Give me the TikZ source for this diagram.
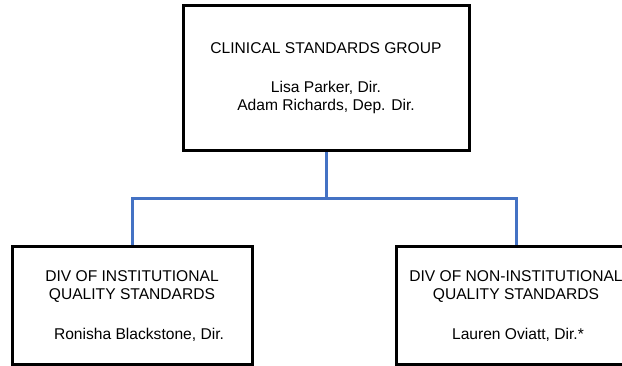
\documentclass[tikz,border=0pt]{standalone}
\usepackage{fontspec}
\setmainfont{Liberation Sans}
\definecolor{connblue}{HTML}{4472C4}
\begin{document}
\begin{tikzpicture}[x=1pt,y=-1pt,
  orgbox/.style={draw=black, line width=3pt, rectangle, align=center,
    inner sep=0pt, font=\fontsize{15.6}{18}\selectfont},
  conn/.style={draw=connblue, line width=3pt}]
\useasboundingbox (0,0) rectangle (622,366);
\node[orgbox, minimum width=286pt, minimum height=145pt] (top) at (326,78.5)
  {CLINICAL STANDARDS GROUP\\[21pt]Lisa Parker, Dir.\\Adam Richards, Dep. Dir.};
\node[orgbox, minimum width=240pt, minimum height=118pt] (left) at (132,306)
  {DIV OF INSTITUTIONAL\\QUALITY STANDARDS\\[22pt]\hspace*{14pt}Ronisha Blackstone, Dir.};
\node[orgbox, minimum width=240pt, minimum height=118pt] (right) at (516,306)
  {\raisebox{0pt}{}DIV OF NON-INSTITUTIONAL\\QUALITY STANDARDS\\[22pt]\hspace*{4pt}Lauren Oviatt, Dir.*};
\coordinate (j) at (326,199);
\draw[conn] (top.south) -- (j);
\draw[conn] (left.north) |- (j) -| (right.north);
\end{tikzpicture}
\end{document}
